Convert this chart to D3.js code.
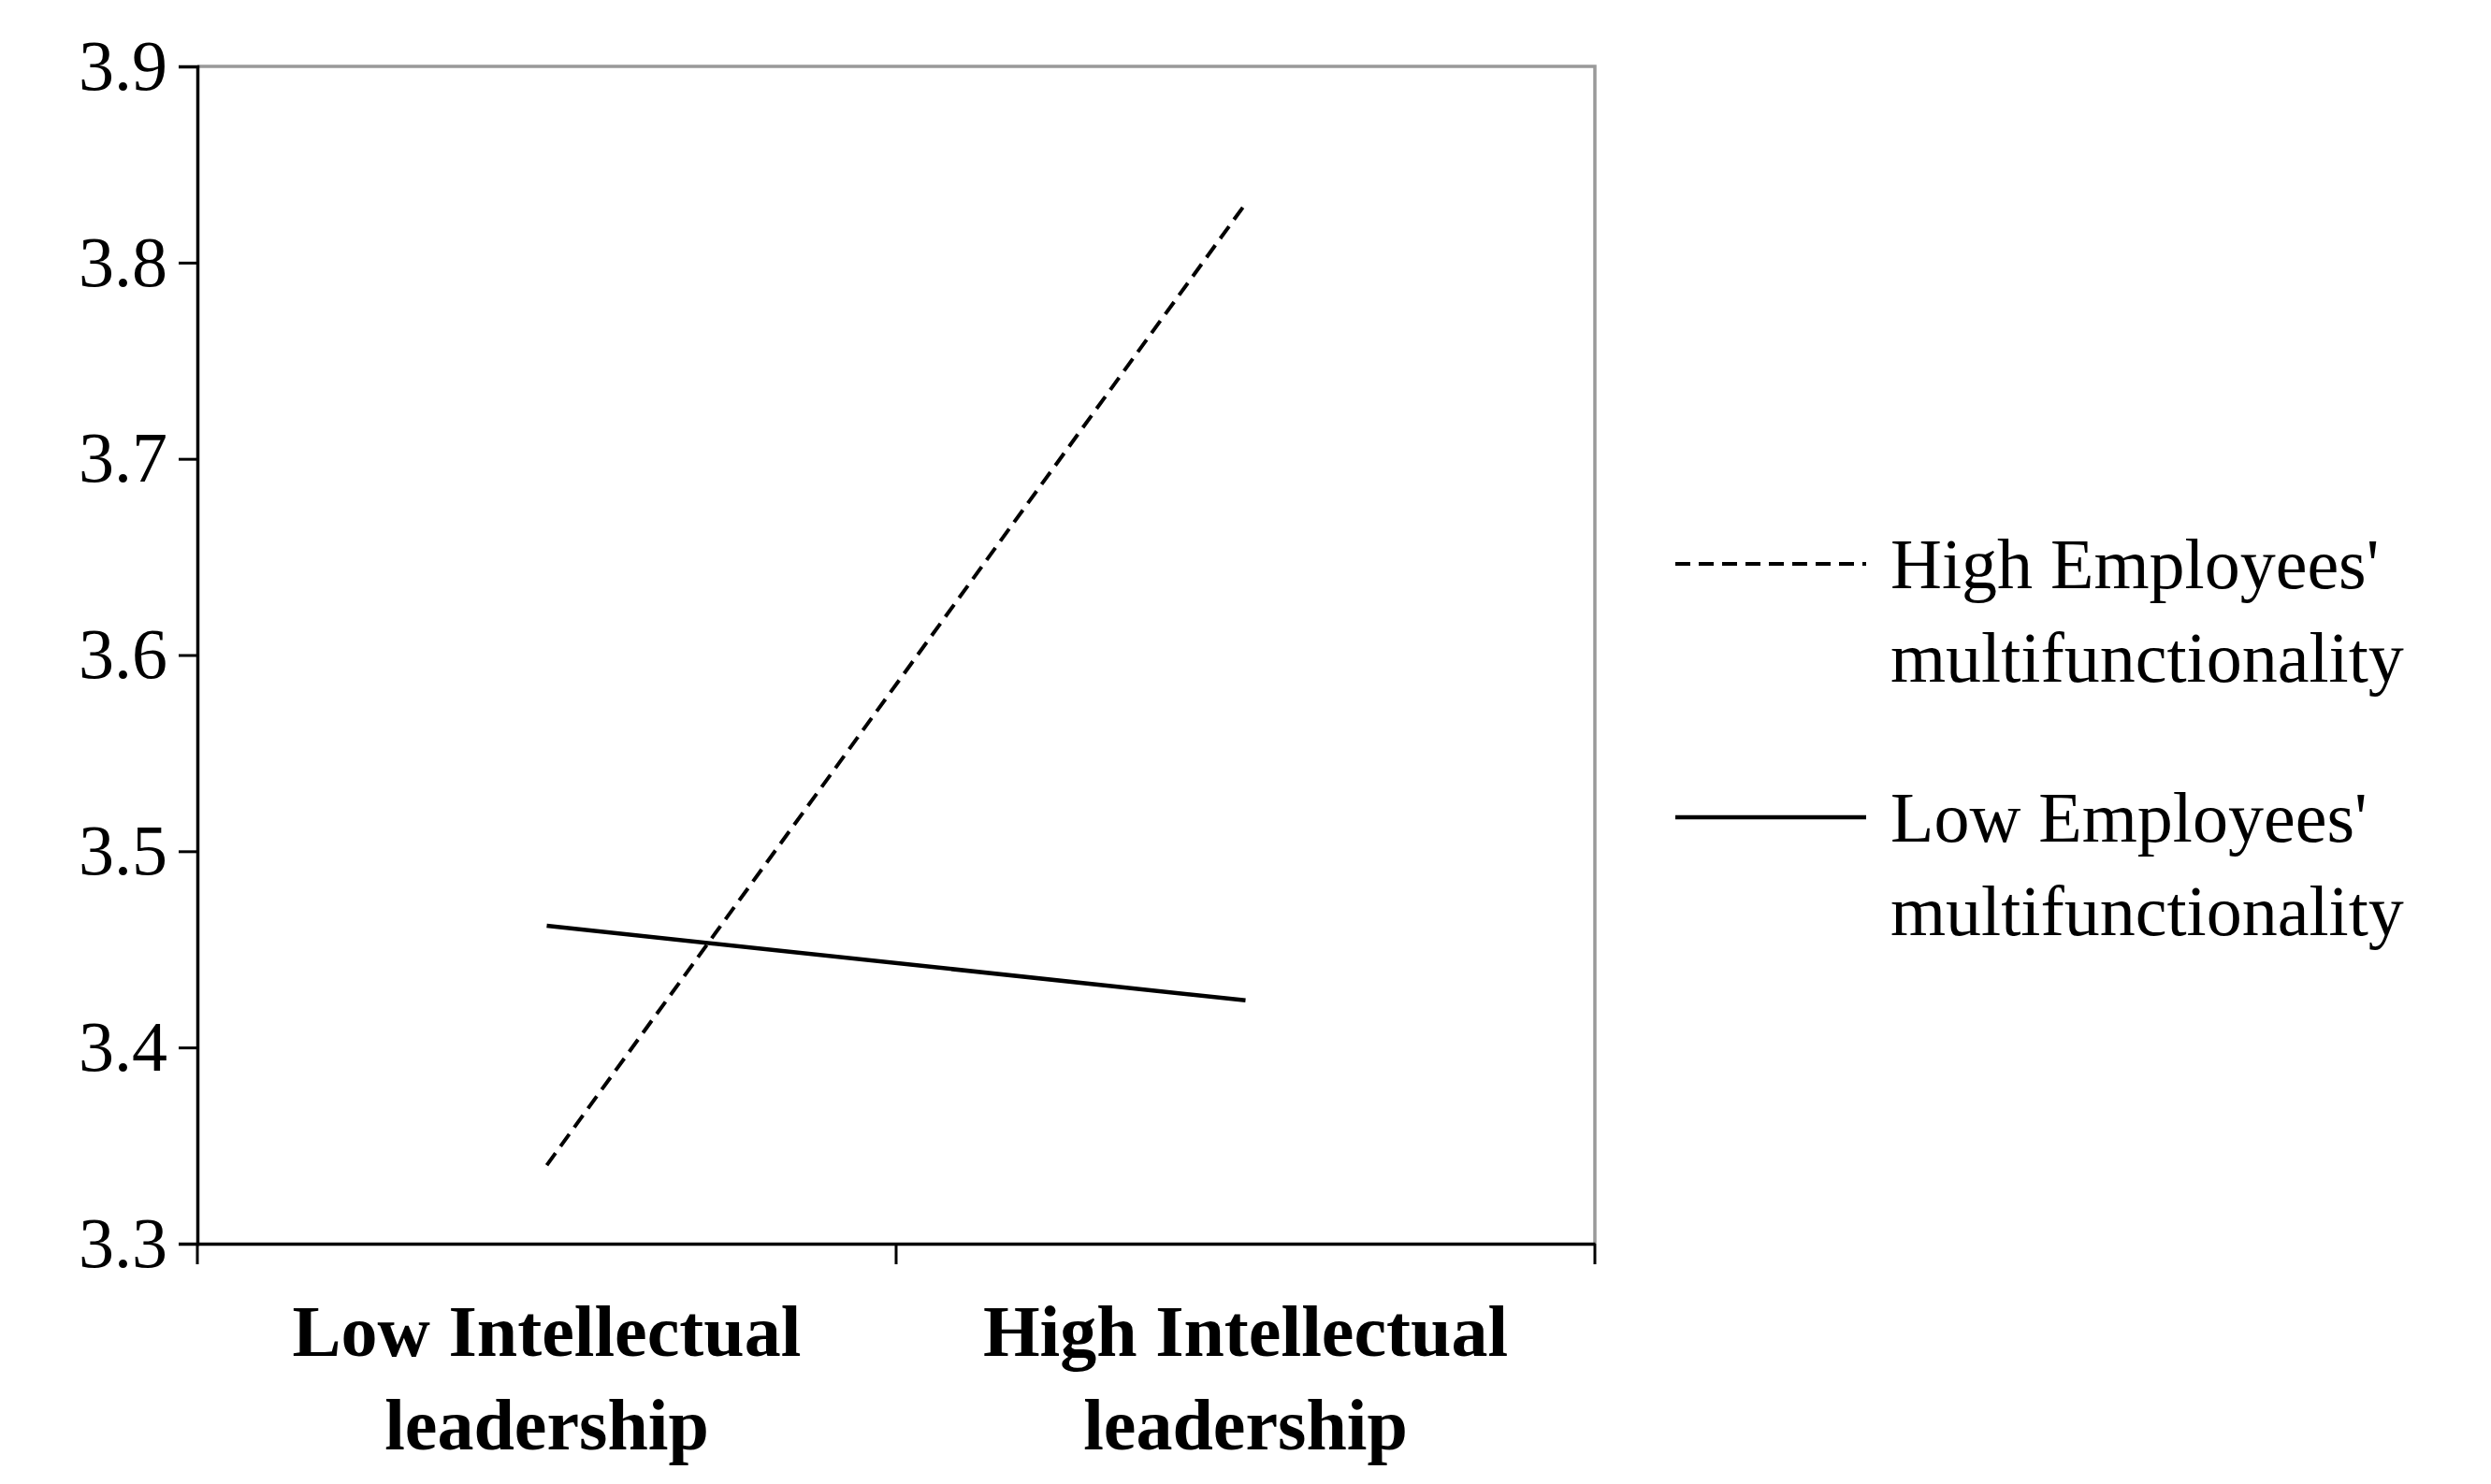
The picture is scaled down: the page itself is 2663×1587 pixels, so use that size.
<!DOCTYPE html>
<html><head><meta charset="utf-8">
<script src="https://cdn.jsdelivr.net/npm/d3@7"></script>
<style>body{margin:0;background:#fff}</style></head>
<body><svg id="c" width="2663" height="1587"></svg>
<script>
const categories = ["Low Intellectual|leadership", "High Intellectual|leadership"];
const highMulti = [3.34, 3.83];
const lowMulti = [3.462, 3.424];
const yTicks = [3.3, 3.4, 3.5, 3.6, 3.7, 3.8, 3.9];
const seriesNames = [["High Employees'", "multifunctionality"], ["Low Employees'", "multifunctionality"]];

const svg = d3.select("#c");
const m = {left: 211, right: 1705, top: 71, bottom: 1330};
const x = d3.scaleBand().domain(categories).range([m.left, m.right]);
const y = d3.scaleLinear().domain([3.3, 3.9]).range([m.bottom, m.top]);
const font = "'Liberation Serif', 'Times New Roman', serif";

// frame top/right
svg.append("path").attr("d", `M${m.left},${m.top}H${m.right}V${m.bottom}`)
  .attr("fill", "none").attr("stroke", "#999").attr("stroke-width", 3.5);

const ya = svg.append("g").attr("transform", `translate(${m.left},0)`)
  .call(d3.axisLeft(y).tickValues(yTicks).tickFormat(d3.format(".1f")).tickSize(20).tickPadding(12));
ya.selectAll("text").attr("font-family", font).attr("font-size", 76).attr("fill", "#000");
ya.selectAll(".tick line").attr("stroke-width", 3);

const xa = svg.append("g").attr("transform", `translate(0,${m.bottom})`)
  .call(d3.axisBottom(x).tickSize(0).tickFormat(""));
xa.selectAll(".tick").remove();
xa.selectAll("line.b").data(d3.range(categories.length + 1)).join("line")
  .attr("x1", i => m.left + i * x.bandwidth()).attr("x2", i => m.left + i * x.bandwidth())
  .attr("y1", 0).attr("y2", 22).attr("stroke", "#000").attr("stroke-width", 3);
svg.selectAll("path.domain").attr("stroke", "#000").attr("stroke-width", 3.5);

categories.forEach(c => {
  c.split("|").forEach((t, i) => {
    svg.append("text").attr("x", x(c) + x.bandwidth() / 2).attr("y", 1450 + i * 100)
      .attr("text-anchor", "middle").attr("font-family", font).attr("font-weight", "bold")
      .attr("font-size", 78).text(t);
  });
});

const line = d3.line().x((d, i) => x(categories[i]) + x.bandwidth() / 2).y(d => y(d));
svg.append("path").datum(highMulti).attr("d", line).attr("fill", "none")
  .attr("stroke", "#000").attr("stroke-width", 4).attr("stroke-dasharray", "16,9");
svg.append("path").datum(lowMulti).attr("d", line).attr("fill", "none")
  .attr("stroke", "#000").attr("stroke-width", 4.5);

const leg = [[603, "16,9", 4], [874, null, 4.5]];
leg.forEach(([ly, dash, w], k) => {
  svg.append("line").attr("x1", 1791).attr("x2", 1995).attr("y1", ly).attr("y2", ly)
    .attr("stroke", "#000").attr("stroke-width", w).attr("stroke-dasharray", dash);
  seriesNames[k].forEach((t, i) => {
    svg.append("text").attr("x", 2021).attr("y", ly + 26 + i * 100)
      .attr("font-family", font).attr("font-size", 76).text(t);
  });
});
</script></body></html>
